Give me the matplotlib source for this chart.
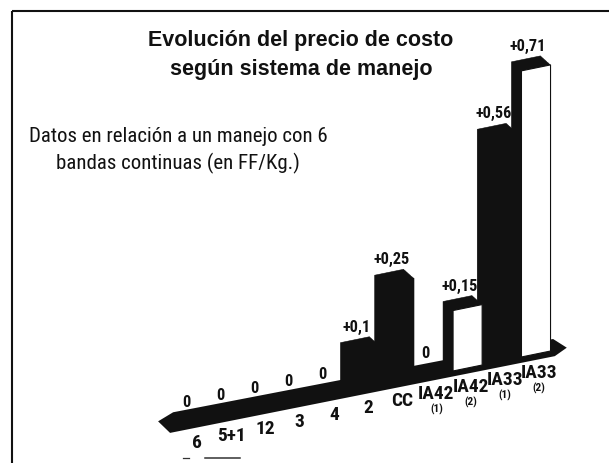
import os
import matplotlib
matplotlib.use("Agg")
import matplotlib.pyplot as plt
import numpy as np
from matplotlib.transforms import Affine2D, offset_copy
from matplotlib import font_manager as fm

# ---------------- data ----------------
categories = ["6", "5+1", "12", "3", "4", "2", "CC", "IA42", "IA42", "IA33", "IA33"]
subscripts = ["", "", "", "", "", "", "", "(1)", "(2)", "(1)", "(2)"]
values = [0, 0, 0, 0, 0, 0.10, 0.25, 0, 0.15, 0.56, 0.71]
value_labels = ["0", "0", "0", "0", "0", "+0,1", "+0,25", "0", "+0,15", "+0,56", "+0,71"]
front_colors = ["#111111", "#111111", "#111111", "#111111", "#111111", "#111111",
                "#111111", "#111111", "white", "#111111", "white"]
title_lines = ["Evolución del precio de costo", "según sistema de manejo"]
subtitle_lines = ["Datos en relación a un manejo con 6", "bandas continuas (en FF/Kg.)"]


# ---------------- fonts ----------------
def pick_font(candidates, fallback_family, fallback_scale, weight="normal"):
    files = {os.path.basename(f.fname).lower(): f.fname for f in fm.fontManager.ttflist}
    for fname, scale in candidates:
        if fname in files:
            return (lambda size, p=files[fname], s=scale:
                    fm.FontProperties(fname=p, size=size * s))
    return (lambda size: fm.FontProperties(family=fallback_family, weight=weight,
                                           size=size * fallback_scale))


label_font = pick_font(
    [("notosans-extracondensedbold.ttf", 1.0),
     ("notosans-condensedbold.ttf", 0.9),
     ("robotocondensed-bold.ttf", 0.9),
     ("liberationsansnarrow-bold.ttf", 0.85),
     ("dejavusanscondensed-bold.ttf", 0.75)],
    ["DejaVu Sans"], 0.7, weight="bold")
sub_font = pick_font(
    [("liberationsansnarrow-regular.ttf", 1.0),
     ("notosans-condensed.ttf", 0.97),
     ("robotocondensed-regular.ttf", 1.0),
     ("notosans-semicondensed.ttf", 0.9),
     ("dejavusanscondensed.ttf", 0.85)],
    ["Liberation Sans", "DejaVu Sans"], 0.83)
title_font = pick_font([("liberationsans-bold.ttf", 1.0)],
                       ["Liberation Sans", "DejaVu Sans"], 1.0, weight="bold")

# ---------------- figure ----------------
W, H = 609, 464
fig = plt.figure(figsize=(W / 100, H / 100), dpi=100)
ax = fig.add_axes([0, 0, 1, 1])
ax.set_xlim(0, W)
ax.set_ylim(H, 0)
ax.set_autoscale_on(False)
ax.axis("off")

# perspective-like mapping: (category index, value) -> pixel position
step_x, slope_y, scale_v = 34.2, 7.0, 403.0
x0, y0 = 194.0, 425.0
T = Affine2D.from_values(step_x, -slope_y, 0, -scale_v, x0, y0)
data_tr = T + ax.transData

idx = np.arange(len(categories))
bar_w = 0.85
depth_dx, depth_dy = -10.0, 9.0  # pixels (left, up)
ink = "#111111"

# floor slab (offsets in pixels above the baseline, converted to value units)
n = len(categories)
slab_i = [-1.05, -0.70, n - 0.45, n - 0.10, n - 0.50, -0.61]
slab_px = [10, -4, -6, 0, 11.5, 16]
ax.fill(slab_i, [p / scale_v for p in slab_px], color=ink, lw=0,
        transform=data_tr, zorder=1)

# extruded depth of bars (swept rectangle)
for k in np.linspace(0, 1, 14):
    off = Affine2D().translate(depth_dx * k, -depth_dy * k)
    ax.bar(idx, values, width=bar_w, color=ink, edgecolor=ink,
           linewidth=0.4, transform=T + off + ax.transData, zorder=2)

# front faces
ax.bar(idx, values, width=bar_w, color=front_colors, edgecolor=ink,
       linewidth=0.8, transform=data_tr, zorder=3)

# value labels
val_tr = offset_copy(data_tr, fig=fig, x=-8, y=15, units="dots")
for i, v, lab in zip(idx, values, value_labels):
    ax.text(i, v, lab, transform=val_tr, ha="center", va="bottom",
            fontproperties=label_font(13), color=ink, zorder=4)

# category labels
cat_tr = offset_copy(data_tr, fig=fig, x=3, y=-18, units="dots")
sub_tr = offset_copy(data_tr, fig=fig, x=3, y=-33, units="dots")
for i, c, s in zip(idx, categories, subscripts):
    ax.text(i, 0, c, transform=cat_tr, ha="center", va="center",
            fontproperties=label_font(15.5), color=ink)
    if s:
        ax.text(i, 0, s, transform=sub_tr, ha="center", va="center",
                fontproperties=label_font(9), color=ink)

# title and subtitle
ax.text(301, 46, title_lines[0], ha="center", va="baseline",
        fontproperties=title_font(15.5), color=ink)
ax.text(301, 75, title_lines[1], ha="center", va="baseline",
        fontproperties=title_font(15.5), color=ink)
ax.text(178, 142, subtitle_lines[0], ha="center", va="baseline",
        fontproperties=sub_font(15), color=ink)
ax.text(178, 169, subtitle_lines[1], ha="center", va="baseline",
        fontproperties=sub_font(15), color=ink)

# frame (top and left border of the scanned panel)
ax.plot([12, 12], [H, 11.5], color=ink, lw=1.5, solid_capstyle="butt")
ax.plot([12, W], [11.5, 11.5], color=ink, lw=1.5, solid_capstyle="butt")
# small scan marks below the first label
ax.plot([183, 189], [458.5, 458.5], color="#333333", lw=0.9)
ax.plot([205, 240], [458.5, 458.5], color="#333333", lw=1.1)

fig.savefig("out.png", dpi=100)
